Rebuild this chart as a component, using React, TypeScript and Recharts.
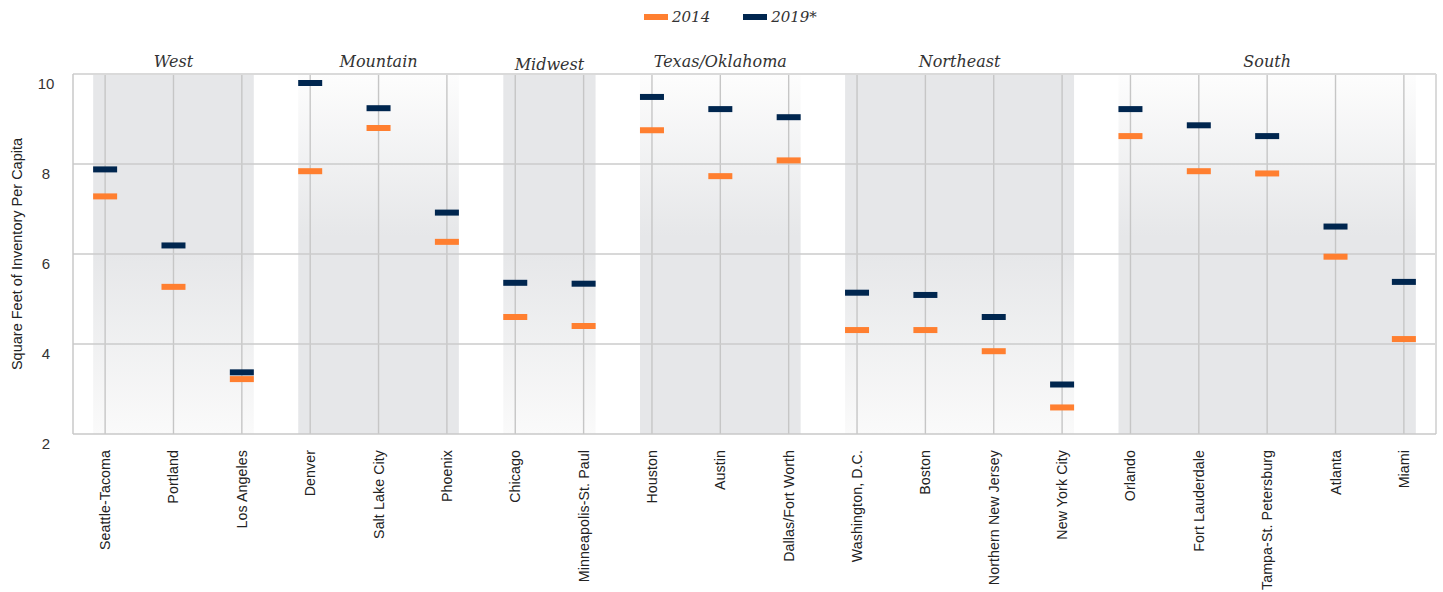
import { ScatterChart, Scatter, XAxis, YAxis, ReferenceArea, ReferenceLine } from "recharts";

// Inventory per capita by metro, grouped by region
const cities = [
  "Seattle-Tacoma", "Portland", "Los Angeles",
  "Denver", "Salt Lake City", "Phoenix",
  "Chicago", "Minneapolis-St. Paul",
  "Houston", "Austin", "Dallas/Fort Worth",
  "Washington, D.C.", "Boston", "Northern New Jersey", "New York City",
  "Orlando", "Fort Lauderdale", "Tampa-St. Petersburg", "Atlanta", "Miami",
];
const values2014 = [7.28, 5.27, 3.22, 7.84, 8.8, 6.27, 4.6, 4.4, 8.75, 7.73, 8.08, 4.31, 4.31, 3.84, 2.59, 8.62, 7.84, 7.79, 5.94, 4.11];
const values2019 = [7.88, 6.19, 3.37, 9.8, 9.24, 6.92, 5.36, 5.34, 9.49, 9.22, 9.04, 5.14, 5.09, 4.6, 3.1, 9.22, 8.86, 8.62, 6.61, 5.38];

const regions = ["West", "Mountain", "Midwest", "Texas/Oklahoma", "Northeast", "South"];
const regionFirst = [0, 3, 6, 8, 11, 15];
const regionLast = [2, 5, 7, 10, 14, 19];

const yTicks = [2, 4, 6, 8, 10];
const gridY = [4, 6, 8];
const xTicks = cities.map((_, i) => i);

const series = [
  { name: "2014", values: values2014, color: "#FF7F30" },
  { name: "2019*", values: values2019, color: "#00264F" },
];

const serif = "'DejaVu Serif', serif";
const sans = "'Liberation Sans', Arial, sans-serif";

const Dash = (color: string) => (props: any) => {
  const { cx, cy } = props;
  return <rect x={cx - 12} y={cy - 3} width={24} height={6} fill={color} />;
};

const CityTick = (props: any) => {
  const { x, y, payload } = props;
  return (
    <g transform={`translate(${x},${y + 16}) rotate(-90)`}>
      <text textAnchor="end" dy="0.35em" fontFamily={sans} fontSize={14.2} letterSpacing={0.1} fill="#222">
        {cities[payload.value]}
      </text>
    </g>
  );
};

const ValueTick = (props: any) => {
  const { x, y, payload } = props;
  return (
    <text x={x - 27} y={y + 10} dy="0.35em" textAnchor="middle" fontFamily={sans} fontSize={15} fill="#333">
      {payload.value}
    </text>
  );
};

export default function App() {
  return (
    <div style={{ position: "relative", width: 1443, height: 592 }}>
      <style>{`body{margin:0}`}</style>
      <div style={{ position: "absolute", top: 8, left: 644, display: "flex", alignItems: "center", fontFamily: serif, fontStyle: "italic", fontSize: 15, color: "#333" }}>
        {series.map((s, i) => (
          <div key={s.name} style={{ display: "flex", alignItems: "center", marginLeft: i ? 33 : 0 }}>
            <span style={{ display: "inline-block", width: 24, height: 6, background: s.color, marginRight: 4 }} />
            <span>{s.name}</span>
          </div>
        ))}
      </div>
      <ScatterChart width={1443} height={592} margin={{ top: 74, right: 7, bottom: 0, left: 0 }}>
        <defs>
          <linearGradient id="fadeDown" x1="0" y1="0" x2="0" y2="1">
            <stop offset="0" stopColor="#e6e7e9" />
            <stop offset="0.5" stopColor="#e6e7e9" />
            <stop offset="1" stopColor="#fafafa" />
          </linearGradient>
          <linearGradient id="fadeUp" x1="0" y1="0" x2="0" y2="1">
            <stop offset="0" stopColor="#fdfdfd" />
            <stop offset="0.45" stopColor="#e6e7e9" />
            <stop offset="1" stopColor="#e6e7e9" />
          </linearGradient>
        </defs>
        {regions.map((r, i) => (
          <ReferenceArea
            key={r}
            x1={regionFirst[i] - 0.175}
            x2={regionLast[i] + 0.175}
            fill={i % 2 === 0 ? "url(#fadeDown)" : "url(#fadeUp)"}
            fillOpacity={1}
            stroke="none"
            label={{ value: r, position: "top", offset: r === "Midwest" ? 4 : 7, fill: "#333", fontFamily: serif, fontStyle: "italic", fontSize: 16 }}
          />
        ))}
        {xTicks.map((t) => (
          <ReferenceLine key={`vx${t}`} x={t} stroke="#c6c6c6" strokeWidth={1.4} />
        ))}
        {gridY.map((t) => (
          <ReferenceLine key={`hy${t}`} y={t} stroke="#cbcbcb" strokeWidth={1.3} />
        ))}
        <ReferenceLine y={10} stroke="#dadada" strokeWidth={2} />
        <ReferenceLine x={19.47} stroke="#dadada" strokeWidth={2} />
        <XAxis
          type="number"
          dataKey="x"
          domain={[-0.47, 19.47]}
          ticks={xTicks}
          interval={0}
          allowDataOverflow
          height={158}
          tickSize={0}
          tickMargin={0}
          tickLine={false}
          axisLine={{ stroke: "#c9c9c9", strokeWidth: 1.5 }}
          tick={<CityTick />}
        />
        <YAxis
          type="number"
          dataKey="y"
          domain={[2, 10]}
          ticks={yTicks}
          width={73}
          tickSize={0}
          tickMargin={0}
          tickLine={false}
          axisLine={{ stroke: "#c9c9c9", strokeWidth: 1.5 }}
          tick={<ValueTick />}
          label={{ value: "Square Feet of Inventory Per Capita", angle: -90, position: "insideLeft", offset: 17, fontFamily: sans, fontSize: 14.5, fill: "#222", style: { textAnchor: "middle" } }}
        />
        {series.map((s) => (
          <Scatter
            key={s.name}
            name={s.name}
            data={s.values.map((v, i) => ({ x: i, y: v }))}
            shape={Dash(s.color)}
            isAnimationActive={false}
          />
        ))}
      </ScatterChart>
    </div>
  );
}
